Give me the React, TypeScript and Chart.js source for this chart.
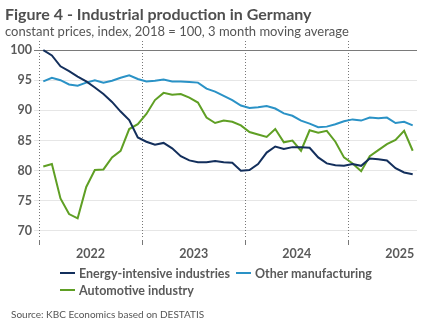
import React, { useEffect, useRef } from 'react';
import { Chart, registerables } from 'chart.js';
Chart.register(...registerables);

const FONT = 'Lato, "Open Sans", sans-serif';
const TEXT = '#5a5a5a';

const years = ['2022', '2023', '2024', '2025'];
const months = [
  '2022-01','2022-02','2022-03','2022-04','2022-05','2022-06','2022-07','2022-08','2022-09','2022-10','2022-11','2022-12',
  '2023-01','2023-02','2023-03','2023-04','2023-05','2023-06','2023-07','2023-08','2023-09','2023-10','2023-11','2023-12',
  '2024-01','2024-02','2024-03','2024-04','2024-05','2024-06','2024-07','2024-08','2024-09','2024-10','2024-11','2024-12',
  '2025-01','2025-02','2025-03','2025-04','2025-05','2025-06','2025-07','2025-08',
];
const energy = [100, 99.1, 97.3, 96.5, 95.6, 94.8, 93.8, 92.7, 91.4, 89.8, 88.4, 85.5, 84.8, 84.3, 84.6, 83.7, 82.4, 81.7, 81.4, 81.4, 81.6, 81.4, 81.3, 80.0, 80.1, 81.1, 83.0, 84.0, 83.6, 83.9, 83.9, 83.8, 82.2, 81.2, 80.9, 80.8, 81.1, 80.8, 82.0, 81.9, 81.7, 80.4, 79.7, 79.4];
const other = [94.8, 95.4, 95.0, 94.3, 94.1, 94.6, 95.0, 94.6, 94.9, 95.4, 95.8, 95.2, 94.8, 94.9, 95.1, 94.8, 94.8, 94.7, 94.6, 93.6, 93.1, 92.4, 91.7, 90.8, 90.4, 90.5, 90.7, 90.3, 89.5, 89.1, 88.3, 87.8, 87.2, 87.3, 87.7, 88.2, 88.5, 88.3, 88.8, 88.7, 88.8, 87.9, 88.1, 87.5];
const auto = [80.7, 81.1, 75.4, 72.8, 72.1, 77.3, 80.1, 80.2, 82.2, 83.3, 86.9, 87.7, 89.4, 91.7, 92.9, 92.6, 92.7, 92.1, 91.3, 88.8, 87.9, 88.3, 88.1, 87.5, 86.4, 86.0, 85.6, 86.9, 84.7, 85.0, 83.3, 86.7, 86.3, 86.6, 84.8, 82.2, 81.2, 79.9, 82.4, 83.4, 84.4, 85.1, 86.6, 83.3];
const yTicks = [70, 75, 80, 85, 90, 95, 100];

const seriesNames = ['Energy-intensive industries', 'Other manufacturing', 'Automotive industry'];
const seriesColors = ['#132f5c', '#2a92c6', '#5f9f24'];

const toPoints = (arr: number[]) => arr.map((v, i) => ({ x: i, y: v }));

const yearLines = {
  id: 'yearLines',
  beforeDatasetsDraw(chart: any) {
    const { ctx, chartArea, scales } = chart;
    const x = scales.x;
    ctx.save();
    years.forEach((_, k) => {
      const px = Math.round(x.getPixelForValue(k * 12 - 0.5)) + 0.5;
      ctx.strokeStyle = '#777';
      ctx.lineWidth = 1;
      ctx.setLineDash([1, 2]);
      ctx.beginPath();
      ctx.moveTo(px, chartArea.top);
      ctx.lineTo(px, chartArea.bottom - 3);
      ctx.stroke();
      ctx.setLineDash([]);
      ctx.beginPath();
      ctx.moveTo(px, chartArea.bottom);
      ctx.lineTo(px, chartArea.bottom + 5);
      ctx.stroke();
    });
    ctx.restore();
  },
};

export default function App() {
  const ref = useRef<HTMLCanvasElement>(null);
  useEffect(() => {
    const chart = new Chart(ref.current!, {
      type: 'line',
      data: {
        datasets: [energy, other, auto].map((arr, i) => ({
          label: seriesNames[i],
          data: toPoints(arr),
          borderColor: seriesColors[i],
          backgroundColor: seriesColors[i],
          borderWidth: 2,
          pointRadius: 0,
          tension: 0,
          fill: false,
        })),
      },
      options: {
        responsive: false,
        animation: false,
        layout: { padding: { left: 0, right: 15, top: 41, bottom: 74 } },
        plugins: { legend: { display: false }, tooltip: { enabled: false }, title: { display: false } },
        scales: {
          x: {
            type: 'linear',
            min: -0.5,
            max: months.length - 0.5,
            grid: { display: false, drawTicks: false },
            border: { display: false },
            afterBuildTicks: (s: any) => {
              s.ticks = years.map((_, k) => ({ value: k * 12 + 5.5 }));
            },
            afterFit: (s: any) => { s.height = 20; },
            ticks: {
              autoSkip: false,
              maxRotation: 0,
              padding: 6,
              color: TEXT,
              font: { family: FONT, size: 12.5, weight: 'bold' },
              callback: (v: any) => years[Math.round((Number(v) - 5.5) / 12)],
            },
          },
          y: {
            min: 68.5,
            max: 101.5,
            afterBuildTicks: (s: any) => {
              s.ticks = yTicks.map((v) => ({ value: v }));
            },
            afterFit: (s: any) => { s.width = 39; },
            border: { display: false },
            grid: {
              color: (c: any) => (c.tick && c.tick.value === 100 ? '#7a7a7a' : '#e6e6e6'),
              tickColor: (c: any) => (c.tick && c.tick.value === 100 ? '#7a7a7a' : '#e6e6e6'),
              tickLength: 5,
              lineWidth: 1,
            },
            ticks: {
              padding: 2,
              color: TEXT,
              font: { family: FONT, size: 12.5, weight: 'bold' },
            },
          },
        },
      },
      plugins: [yearLines],
    } as any);
    return () => chart.destroy();
  }, []);

  const legendItem = (i: number, left: number, top: number) => (
    <div style={{ position: 'absolute', left, top, height: 16, display: 'flex', alignItems: 'center', fontSize: 12.5, fontWeight: 700, color: TEXT, whiteSpace: 'nowrap' }}>
      <span style={{ display: 'inline-block', width: 15, height: 2, background: seriesColors[i], marginRight: 4 }} />
      {seriesNames[i]}
    </div>
  );

  return (
    <div style={{ position: 'fixed', left: 0, top: 0, width: 432, height: 334, background: '#fff', fontFamily: FONT, overflow: 'hidden' }}>
      <canvas ref={ref} width={432} height={334} style={{ position: 'absolute', left: 0, top: 0, width: 432, height: 334 }} />
      <div style={{ position: 'absolute', left: 5, top: 4, fontSize: 16, fontWeight: 700, color: '#4f4f4f', whiteSpace: 'nowrap' }}>
        Figure 4 - Industrial production in Germany
      </div>
      <div style={{ position: 'absolute', left: 5, top: 23, fontSize: 13, color: '#555', whiteSpace: 'nowrap' }}>
        constant prices, index, 2018 = 100, 3 month moving average
      </div>
      {legendItem(0, 60, 265)}
      {legendItem(1, 236, 265)}
      {legendItem(2, 60, 282)}
      <div style={{ position: 'absolute', left: 11, top: 308, fontSize: 10, color: '#555', whiteSpace: 'nowrap' }}>
        Source: KBC Economics based on DESTATIS
      </div>
    </div>
  );
}
